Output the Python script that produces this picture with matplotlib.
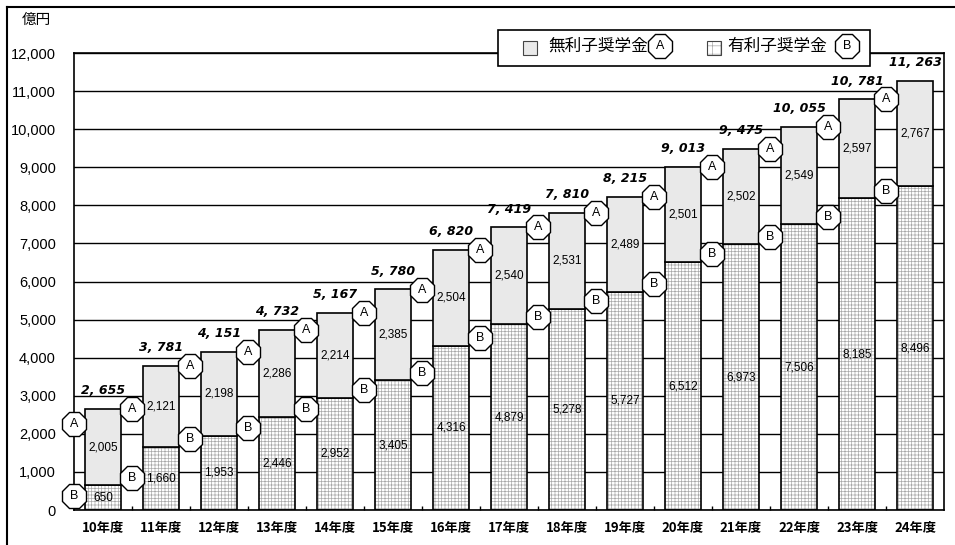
import matplotlib.pyplot as plt
from matplotlib.patches import Rectangle
from matplotlib.lines import Line2D
import numpy as np

# 年度別 奨学金事業費（億円）
years = ['10年度', '11年度', '12年度', '13年度', '14年度', '15年度', '16年度', '17年度',
         '18年度', '19年度', '20年度', '21年度', '22年度', '23年度', '24年度']
interest_free = [2005, 2121, 2198, 2286, 2214, 2385, 2504, 2540, 2531, 2489, 2501, 2502, 2549, 2597, 2767]
interest_bearing = [650, 1660, 1953, 2446, 2952, 3405, 4316, 4879, 5278, 5727, 6512, 6973, 7506, 8185, 8496]
totals = [2655, 3781, 4151, 4732, 5167, 5780, 6820, 7419, 7810, 8215, 9013, 9475, 10055, 10781, 11263]
yticks = list(range(0, 13000, 1000))

JP = ['Noto Sans CJK JP', 'DejaVu Sans']
NUM = ['Liberation Sans', 'DejaVu Sans']
W, H = 955, 545

plt.rcParams['hatch.linewidth'] = 0.5


def px(x, y):
    return x / W, 1 - y / H


fig = plt.figure(figsize=(W / 100, H / 100), dpi=100)
ax = fig.add_axes([74 / W, 1 - 510 / H, 870 / W, 457 / H])

x = np.arange(len(years))
a = np.array(interest_free)
b = np.array(interest_bearing)
bw = 0.62
hatch_col = '#a8a8a8'

# 有利子: 格子ハッチ（灰色）を先に塗ってから黒枠
ax.bar(x, b, bw, color='white', edgecolor=hatch_col, hatch='+++++', linewidth=0, zorder=2)
ax.bar(x, b, bw, fill=False, edgecolor='black', linewidth=1.2, zorder=3)
# 無利子
ax.bar(x, a, bw, bottom=b, color='#e9e9e9', edgecolor='black', linewidth=1.2, zorder=3)

# 区分ごとの金額
for i in range(len(x)):
    ax.text(x[i], b[i] / 2, f'{b[i]:,}', ha='center', va='center', fontsize=8.5,
            family=NUM, zorder=5)
    ax.text(x[i], b[i] + a[i] / 2, f'{a[i]:,}', ha='center', va='center', fontsize=8.5,
            family=NUM, zorder=5)
    ax.text(x[i], totals[i] + 480, f'{totals[i]:,}'.replace(',', ', '), ha='center',
            va='center', fontsize=9, fontweight='bold', fontstyle='italic',
            family='DejaVu Sans', zorder=5)


def badge(xp, yp, letter):
    ax.plot([xp], [yp], marker='8', markersize=18, markerfacecolor='white',
            markeredgecolor='black', markeredgewidth=1.0, clip_on=False, zorder=6)
    ax.text(xp, yp, letter, ha='center', va='center', fontsize=9, family=NUM,
            clip_on=False, zorder=7)


# A / B の目印（各棒の右側）
for i in range(len(x) - 1):
    badge(x[i] + 0.5, totals[i], 'A')
    badge(x[i] + 0.5, b[i] + 200, 'B')
badge(-0.5, totals[0] - 400, 'A')
badge(-0.5, b[0] - 280, 'B')

ax.set_xlim(-0.5, len(x) - 0.5)
ax.set_ylim(0, 12000)
ax.set_yticks(yticks, [f'{v:,}' for v in yticks])
ax.set_xticks(x, years)
ax.set_xticks(x[:-1] + 0.5, minor=True)
ax.tick_params(axis='y', length=0, pad=13, labelsize=10.5)
ax.tick_params(axis='x', which='major', length=0, pad=8, labelsize=9.5)
ax.tick_params(axis='x', which='minor', direction='in', length=3, width=1)
for lab in ax.get_yticklabels():
    lab.set_family(NUM)
for lab in ax.get_xticklabels():
    lab.set_family(JP)
    lab.set_fontweight('bold')
ax.grid(axis='y', color='black', linewidth=1.0)
ax.set_axisbelow(True)
for s in ax.spines.values():
    s.set_linewidth(1.2)

fig.text(*px(36, 20), '億円', ha='center', va='center', fontsize=10.5, family=JP)

# 凡例
lx0, ly0 = px(498, 66)
lx1, ly1 = px(870, 30)
fig.patches.append(Rectangle((lx0, ly0), lx1 - lx0, ly1 - ly0, transform=fig.transFigure,
                             facecolor='white', edgecolor='black', linewidth=1.2, zorder=10))
sx, sy = px(523, 55)
fig.patches.append(Rectangle((sx, sy), 14 / W, 14 / H, transform=fig.transFigure,
                             facecolor='#e9e9e9', edgecolor='#444444', linewidth=0.8, zorder=11))
sx2, sy2 = px(707, 55)
fig.patches.append(Rectangle((sx2, sy2), 14 / W, 14 / H, transform=fig.transFigure,
                             facecolor='white', edgecolor=hatch_col, hatch='++', linewidth=0,
                             zorder=11))
fig.patches.append(Rectangle((sx2, sy2), 14 / W, 14 / H, transform=fig.transFigure,
                             fill=False, edgecolor='#444444', linewidth=0.8, zorder=12))
fig.text(*px(548, 46), '無利子奨学金', ha='left', va='center', fontsize=12, family=JP, zorder=12)
fig.text(*px(727, 46), '有利子奨学金', ha='left', va='center', fontsize=12, family=JP, zorder=12)
for (bx, by), letter in ((px(660, 46), 'A'), (px(847, 46), 'B')):
    fig.lines.append(Line2D([bx], [by], marker='8', markersize=18, markerfacecolor='white',
                            markeredgecolor='black', markeredgewidth=1.0,
                            transform=fig.transFigure, zorder=12))
    fig.text(bx, by, letter, ha='center', va='center', fontsize=9, family=NUM, zorder=13)

# 外枠（上・左）
fig.lines.append(Line2D([7 / W, 1], [1 - 7 / H, 1 - 7 / H], color='black', linewidth=1.5,
                        transform=fig.transFigure))
fig.lines.append(Line2D([7 / W, 7 / W], [0, 1 - 7 / H], color='black', linewidth=1.5,
                        transform=fig.transFigure))

fig.savefig('out.png', dpi=100)
